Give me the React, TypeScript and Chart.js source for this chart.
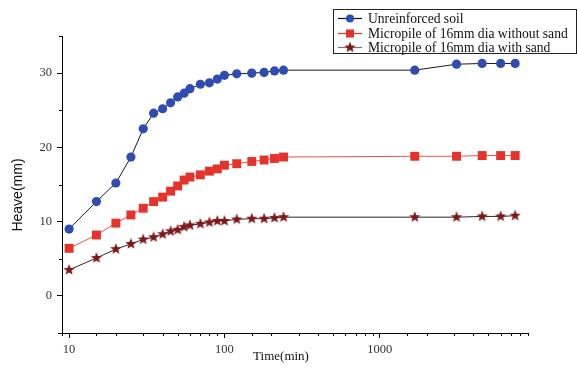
import React, { useEffect, useRef } from "react";
import { Chart, registerables } from "chart.js";

Chart.register(...registerables);

const timeMin = [10, 15, 20, 25, 30, 35, 40, 45, 50, 55, 60, 70, 80, 90, 100, 120, 150, 180, 210, 240, 1680, 3120, 4560, 6000, 7440];
const unreinforced = [9.0, 12.7, 15.2, 18.7, 22.5, 24.6, 25.2, 26.0, 26.8, 27.3, 27.9, 28.5, 28.7, 29.2, 29.7, 29.9, 30.0, 30.1, 30.3, 30.4, 30.4, 31.2, 31.3, 31.3, 31.3];
const withoutSand = [6.4, 8.2, 9.8, 10.9, 11.8, 12.7, 13.3, 14.1, 14.8, 15.6, 16.0, 16.3, 16.8, 17.1, 17.6, 17.8, 18.1, 18.3, 18.5, 18.7, 18.8, 18.8, 18.9, 18.9, 18.9];
const withSand = [3.5, 5.1, 6.3, 7.0, 7.6, 7.9, 8.3, 8.7, 8.9, 9.3, 9.5, 9.7, 9.9, 10.1, 10.1, 10.3, 10.4, 10.4, 10.5, 10.6, 10.6, 10.6, 10.7, 10.7, 10.8];
const seriesNames = ["Unreinforced soil", "Micropile of 16mm dia without sand", "Micropile of 16mm dia with sand"];
const xMajorTicks = [10, 100, 1000];
const yMajorTicks = [0, 10, 20, 30];

const BLUE = "#2f4db0";
const RED = "#e5322b";
const DARKRED = "#7f1717";

function makeStar(color: string, r: number) {
  const size = Math.ceil(r * 2 + 2);
  const c = document.createElement("canvas");
  c.width = size;
  c.height = size;
  const g = c.getContext("2d")!;
  const cx = size / 2, cy = size / 2;
  g.beginPath();
  for (let i = 0; i < 10; i++) {
    const rad = i % 2 === 0 ? r : r * 0.42;
    const a = -Math.PI / 2 + (i * Math.PI) / 5;
    const px = cx + rad * Math.cos(a);
    const py = cy + rad * Math.sin(a);
    if (i === 0) g.moveTo(px, py);
    else g.lineTo(px, py);
  }
  g.closePath();
  g.fillStyle = color;
  g.fill();
  return c;
}

export default function App() {
  const ref = useRef<HTMLCanvasElement | null>(null);
  useEffect(() => {
    const canvas = ref.current!;
    const star = makeStar(DARKRED, 6);
    const mk = (arr: number[]) => arr.map((v, i) => ({ x: timeMin[i], y: v }));

    const overlay = {
      id: "overlay",
      afterDraw(chart: any) {
        const ctx = chart.ctx;
        const xs = chart.scales.x;
        const ys = chart.scales.y;
        const area = chart.chartArea;
        ctx.save();
        // minor ticks
        ctx.strokeStyle = "#000";
        ctx.lineWidth = 1;
        xs.ticks.forEach((t: any) => {
          if (xMajorTicks.includes(t.value)) return;
          const px = Math.round(xs.getPixelForValue(t.value)) + 0.5;
          ctx.beginPath();
          ctx.moveTo(px, area.bottom);
          ctx.lineTo(px, area.bottom + 3);
          ctx.stroke();
        });
        ys.ticks.forEach((t: any) => {
          if (yMajorTicks.includes(t.value)) return;
          const py = Math.round(ys.getPixelForValue(t.value)) + 0.5;
          ctx.beginPath();
          ctx.moveTo(area.left - 3, py);
          ctx.lineTo(area.left, py);
          ctx.stroke();
        });
        // small x-axis overhang at the origin
        ctx.beginPath();
        ctx.moveTo(area.left - 4, area.bottom + 0.5);
        ctx.lineTo(area.left, area.bottom + 0.5);
        ctx.stroke();
        // axis titles
        ctx.fillStyle = "#111";
        ctx.textAlign = "center";
        ctx.textBaseline = "middle";
        ctx.font = "13px 'Liberation Serif'";
        ctx.fillText("Time(min)", 281, 357);
        ctx.save();
        ctx.translate(18, 195);
        ctx.rotate(-Math.PI / 2);
        ctx.font = "14px 'Liberation Sans'";
        ctx.fillText("Heave(mm)", 0, 0);
        ctx.restore();
        // legend
        ctx.fillStyle = "#fff";
        ctx.fillRect(334, 10, 242, 43);
        ctx.strokeStyle = "#222";
        ctx.strokeRect(333.5, 9.5, 243, 44);
        const rows = [18, 33, 47];
        const lineCols = ["#111", RED, "#777"];
        rows.forEach((ry, i) => {
          ctx.strokeStyle = lineCols[i];
          ctx.lineWidth = 1.2;
          ctx.beginPath();
          ctx.moveTo(338, ry + 0.5);
          ctx.lineTo(362, ry + 0.5);
          ctx.stroke();
          if (i === 0) {
            ctx.fillStyle = BLUE;
            ctx.beginPath();
            ctx.arc(350, ry + 0.5, 4, 0, Math.PI * 2);
            ctx.fill();
          } else if (i === 1) {
            ctx.fillStyle = RED;
            ctx.fillRect(346, ry - 3.5, 8, 8);
          } else {
            ctx.drawImage(star, 350 - star.width / 2, ry + 0.5 - star.height / 2);
          }
          ctx.fillStyle = "#111";
          ctx.textAlign = "left";
          ctx.textBaseline = "middle";
          ctx.font = "13.6px 'Liberation Serif'";
          ctx.fillText(seriesNames[i], 368, ry + 1);
        });
        ctx.restore();
      },
    };

    const chart = new Chart(canvas, {
      type: "line",
      data: {
        datasets: [
          {
            label: seriesNames[0],
            data: mk(unreinforced),
            borderColor: "#1a1a1a",
            borderWidth: 1,
            pointStyle: "circle",
            pointRadius: 4.6,
            pointBackgroundColor: BLUE,
            pointBorderColor: BLUE,
            pointBorderWidth: 0,
          },
          {
            label: seriesNames[1],
            data: mk(withoutSand),
            borderColor: "#e8524a",
            borderWidth: 1,
            pointStyle: "rect",
            pointRadius: 6.3,
            pointBackgroundColor: RED,
            pointBorderColor: RED,
            pointBorderWidth: 0,
          },
          {
            label: seriesNames[2],
            data: mk(withSand),
            borderColor: "#2a2a2a",
            borderWidth: 1,
            pointStyle: star as any,
            pointRadius: 5,
          },
        ],
      },
      options: {
        animation: false,
        responsive: false,
        layout: { padding: { left: 0, top: 36, right: 49, bottom: 0 } },
        plugins: { legend: { display: false }, tooltip: { enabled: false } },
        scales: {
          x: {
            type: "logarithmic",
            min: 9,
            max: 9000,
            afterFit: (s: any) => {
              s.height = 38;
            },
            border: { color: "#000", width: 1 },
            grid: {
              drawOnChartArea: false,
              tickLength: 5,
              tickColor: (c: any) => (c.tick && xMajorTicks.includes(c.tick.value) ? "#000" : "rgba(0,0,0,0)"),
            },
            ticks: {
              autoSkip: false,
              maxRotation: 0,
              padding: 4,
              color: "#333",
              font: { family: "'Liberation Serif'", size: 12.5 },
              callback: (v: any) => (xMajorTicks.includes(Number(v)) ? String(v) : ""),
            },
          },
          y: {
            min: -5,
            max: 35,
            afterFit: (s: any) => {
              s.width = 62;
            },
            border: { color: "#000", width: 1 },
            grid: {
              drawOnChartArea: false,
              tickLength: 5,
              tickColor: (c: any) => (c.tick && yMajorTicks.includes(c.tick.value) ? "#000" : "rgba(0,0,0,0)"),
            },
            ticks: {
              stepSize: 5,
              autoSkip: false,
              padding: 5,
              color: "#333",
              font: { family: "'Liberation Serif'", size: 12.5 },
              callback: (v: any) => (yMajorTicks.includes(Number(v)) ? String(v) : ""),
            },
          },
        },
      },
      plugins: [overlay],
    });
    return () => chart.destroy();
  }, []);

  return (
    <div style={{ position: "fixed", left: 0, top: 0, width: 577, height: 371, background: "#fff" }}>
      <canvas ref={ref} width={577} height={371} style={{ width: 577, height: 371, display: "block" }} />
    </div>
  );
}
